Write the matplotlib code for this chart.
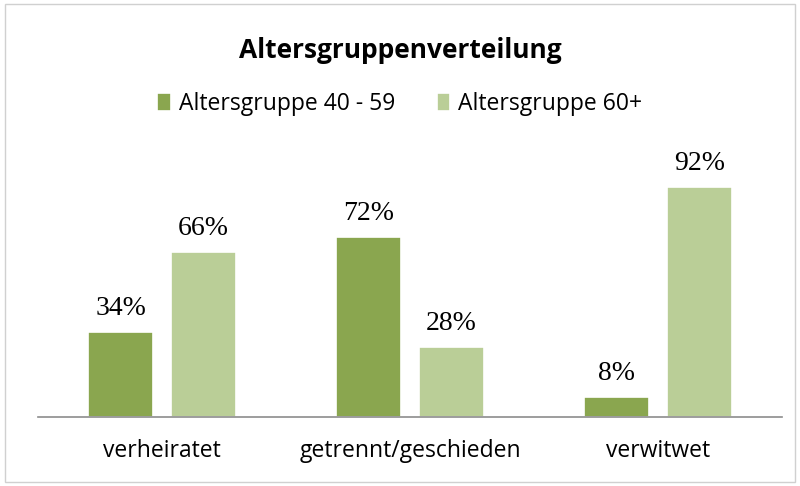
import numpy as np
import matplotlib.pyplot as plt
from matplotlib.patches import Rectangle

categories = ['verheiratet', 'getrennt/geschieden', 'verwitwet']
group_40_59 = [34, 72, 8]
group_60 = [66, 28, 92]
series_names = ['Altersgruppe 40 - 59', 'Altersgruppe 60+']

dark = '#8AA64F'
light = '#BACE97'

fig = plt.figure(figsize=(8, 4.86), dpi=100)
fig.patches.append(Rectangle((0.006, 0.008), 0.988, 0.984, transform=fig.transFigure,
                             fill=False, edgecolor='#D0D0D0', linewidth=1))

ax = fig.add_axes([38 / 800, 69 / 486, 744 / 800, 250 / 486])
x = np.arange(len(categories))
w = 0.262
off = 0.167
b1 = ax.bar(x - off, group_40_59, w, color=dark, edgecolor='white', linewidth=1.2,
            label=series_names[0])
b2 = ax.bar(x + off, group_60, w, color=light, edgecolor='white', linewidth=1.2,
            label=series_names[1])

for bars, vals in [(b1, group_40_59), (b2, group_60)]:
    for r, v in zip(bars, vals):
        ax.text(r.get_x() + r.get_width() / 2, v + 4.5, f'{v}%', ha='center', va='bottom',
                fontsize=20, family='Liberation Serif', clip_on=False)

ax.set_xlim(-0.5, 2.5)
ax.set_ylim(0, 100)
ax.set_yticks([])
ax.set_xticks(x)
ax.set_xticklabels(categories, fontsize=16.5, family='Open Sans')
ax.tick_params(axis='x', length=0, pad=16)
for s in ['top', 'right', 'left']:
    ax.spines[s].set_visible(False)
ax.spines['bottom'].set_color('#8C8C8C')
ax.spines['bottom'].set_linewidth(1.2)

fig.text(0.5, 1 - 51 / 486, 'Altersgruppenverteilung', ha='center', va='center',
         fontsize=19, fontweight='bold', family='Open Sans')
fig.legend(handles=[b1, b2], labels=series_names, loc='center', bbox_to_anchor=(0.5, 1 - 104 / 486),
           ncol=2, frameon=False, prop={'family': 'Open Sans', 'size': 16.5},
           handlelength=0.6, handleheight=0.8, handletextpad=0.35, columnspacing=1.8)

fig.savefig('out.png', dpi=100)
